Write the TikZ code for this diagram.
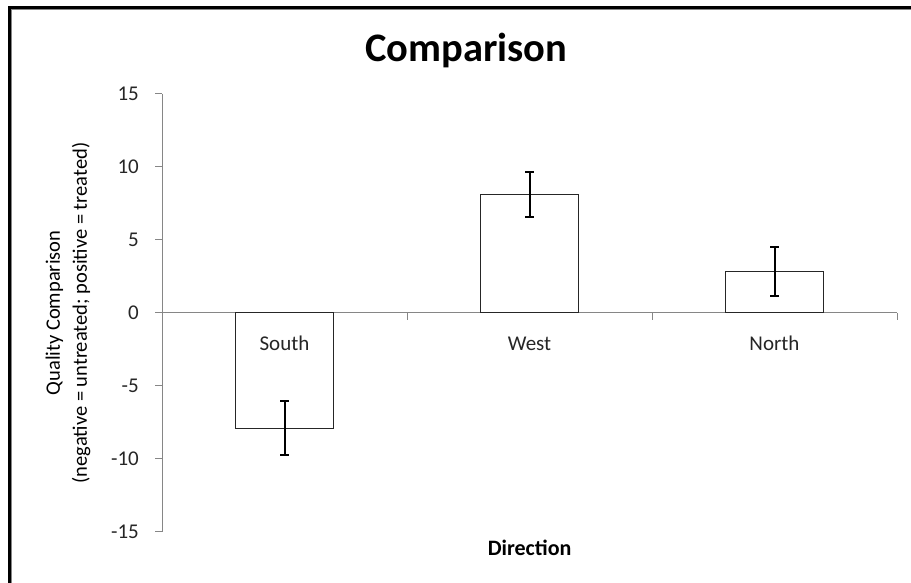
\documentclass[tikz,border=0pt]{standalone}
\usepackage{fontspec}
\setmainfont{Carlito}
\definecolor{AxisGray}{HTML}{868686}
\definecolor{BarEdge}{HTML}{262626}
\definecolor{TextGray}{HTML}{262626}

\begin{document}
\begin{tikzpicture}[x=1pt,y=1pt,
  axisline/.style={AxisGray,line width=1pt},
  barbox/.style={BarEdge,line width=1pt,fill=white},
  errbar/.style={black,line width=2pt},
  ticklabel/.style={TextGray,font=\fontsize{21}{24}\selectfont,inner sep=0pt}]
\def\whisker{4.5pt}
\useasboundingbox (0,0) rectangle (911,583);

% frame of the chart area
\draw[line width=3pt] (9.2,0) -- (9.2,575.3) -- (911,575.3);
\draw[AxisGray,line width=.6pt] (11.3,0) -- (11.3,573.6) -- (911,573.6);

\node[anchor=base,font=\fontsize{40.5}{46}\selectfont\bfseries] (title) at (466.5,521) {Comparison};
\node[anchor=base,font=\fontsize{22}{26}\selectfont\bfseries] (xtitle) at (529.6,27.7) {Direction};
\node[align=center,rotate=90,font=\fontsize{20.5}{27}\selectfont] (ytitle) at (68,270)
  {Quality Comparison\\(negative = untreated; positive = treated)};

\begin{scope}[shift={(162,270)},x=245pt,y=14.6pt]
\coordinate (O) at (0,0);
% value axis
\draw[axisline] (0,-15) -- (0,15);
\foreach \v in {-15,-10,...,15} {
  \draw[axisline] (0,\v) -- ++(-7pt,0pt);
  \node[ticklabel,anchor=east] (ytick\v) at ([xshift=-23pt]0,\v) {\v};
}
% category axis
\draw[axisline] (O) -- (3,0);
\foreach \c in {1,2,3}
  \draw[axisline] (\c,0) -- ++(0pt,-7pt);

% bars with their error bars
\foreach \c/\v/\hi/\lo/\name in {0.5/-7.9/-6.05/-9.7/South,1.5/8.13/9.68/6.58/West,2.5/2.85/4.54/1.14/North} {
  \draw[barbox] (\c-0.2,0) rectangle (\c+0.2,\v);
  \coordinate (hi\name) at (\c,\hi);
  \coordinate (lo\name) at (\c,\lo);
  \draw[errbar] (hi\name) -- (lo\name);
  \draw[errbar] ([xshift=-\whisker]hi\name) -- ([xshift=\whisker]hi\name);
  \draw[errbar] ([xshift=-\whisker]lo\name) -- ([xshift=\whisker]lo\name);
  \node[ticklabel,anchor=base] (lbl\name) at (\c,-2.6) {\name};
}
\end{scope}
\end{tikzpicture}
\end{document}
